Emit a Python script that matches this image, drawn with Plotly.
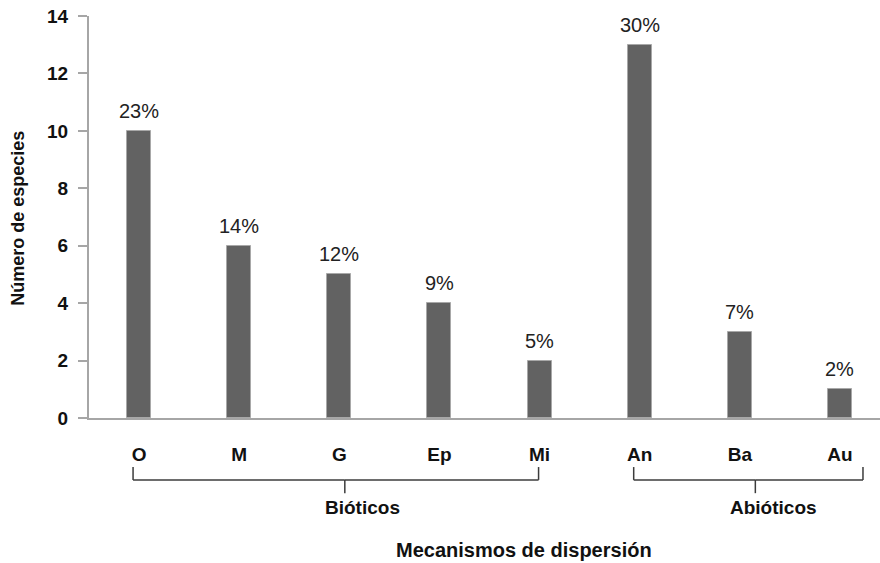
import plotly.graph_objects as go

categories = ["O", "M", "G", "Ep", "Mi", "An", "Ba", "Au"]
species = [10, 6, 5, 4, 2, 13, 3, 1]
percent_labels = ["23%", "14%", "12%", "9%", "5%", "30%", "7%", "2%"]
groups = [("Bióticos", 0, 4), ("Abióticos", 5, 7)]
y_ticks = [0, 2, 4, 6, 8, 10, 12, 14]

FONT = "Liberation Sans, Arial, sans-serif"
xs = list(range(len(categories)))

fig = go.Figure()
fig.add_trace(go.Bar(
    x=xs, y=species, width=0.24,
    marker=dict(color="#626262", line=dict(color="#a8a8a8", width=1)),
    hoverinfo="skip",
))

annotations = []
for xi, v, t in zip(xs, species, percent_labels):
    annotations.append(dict(x=xi, y=v, xref="x", yref="y", text=t, showarrow=False,
                            yanchor="middle", yshift=20,
                            font=dict(family=FONT, size=20, color="#222")))

shapes = []
brace_col = "#3c3c3c"
y_top, y_mid, y_bot = -0.122, -0.154, -0.187
for name, i0, i1 in groups:
    left = i0 - 0.06
    right = i1 + 0.23 if name == "Abióticos" else i1 - 0.01
    center = (left + right) / 2 + (0.09 if name == "Bióticos" else 0.07)
    for xa, xb in [(left, center), (center, right)]:
        shapes.append(dict(type="line", xref="x", yref="paper", x0=xa, x1=xb, y0=y_mid, y1=y_mid,
                           line=dict(color=brace_col, width=1.5)))
    for xe in (left, right):
        shapes.append(dict(type="line", xref="x", yref="paper", x0=xe, x1=xe, y0=y_top, y1=y_mid,
                           line=dict(color=brace_col, width=1.5)))
    shapes.append(dict(type="line", xref="x", yref="paper", x0=center, x1=center, y0=y_mid, y1=y_bot,
                       line=dict(color=brace_col, width=1.5)))
    annotations.append(dict(x=center + 0.18, y=-0.222, xref="x", yref="paper", text=f"<b>{name}</b>",
                            showarrow=False, yanchor="middle",
                            font=dict(family=FONT, size=19, color="#111")))

annotations.append(dict(x=3.84, y=-0.328, xref="x", yref="paper", text="<b>Mecanismos de dispersión</b>",
                        showarrow=False, yanchor="middle", font=dict(family=FONT, size=20, color="#111")))
annotations.append(dict(x=-0.09, y=0.4975, xref="paper", yref="paper", text="<b>Número de especies</b>",
                        showarrow=False, textangle=-90, xanchor="center", yanchor="middle",
                        font=dict(family=FONT, size=18, color="#111")))

fig.update_layout(
    width=880, height=563,
    margin=dict(l=89, r=0, t=16, b=145, autoexpand=False),
    paper_bgcolor="white", plot_bgcolor="white",
    showlegend=False,
    bargap=0,
    xaxis=dict(range=[-0.5, 7.4], tickmode="array", tickvals=xs, ticktext=categories,
               showgrid=False, zeroline=False, showline=True, linecolor="#a6a6a6", linewidth=2,
               ticks="", ticklabelstandoff=18, ticklabeloverflow="allow", automargin=False,
               tickfont=dict(family=FONT, size=19, color="#111", weight="bold")),
    yaxis=dict(range=[0, 14], tickmode="array", tickvals=y_ticks, showgrid=False, zeroline=False,
               showline=True, linecolor="#a6a6a6", linewidth=2, ticks="outside", ticklen=9,
               tickcolor="#a6a6a6", tickwidth=2, ticklabelstandoff=6, ticklabeloverflow="allow",
               automargin=False,
               tickfont=dict(family=FONT, size=19, color="#111", weight="bold")),
    annotations=annotations,
    shapes=shapes,
)

fig.write_html("out.html", config={"displayModeBar": False},
               post_script="document.body.style.margin='0';document.body.style.overflow='hidden';")
